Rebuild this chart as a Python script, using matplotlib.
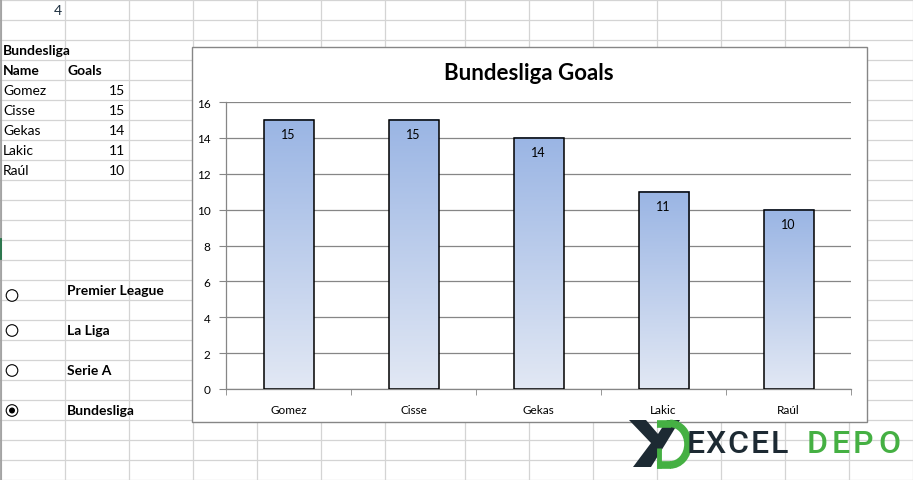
import numpy as np
import matplotlib
matplotlib.use("Agg")
import matplotlib.pyplot as plt
from matplotlib.patches import Rectangle, Circle, Polygon, Arc
from matplotlib.colors import LinearSegmentedColormap

# data
names = ["Gomez", "Cisse", "Gekas", "Lakic", "Raúl"]
goals = [15, 15, 14, 11, 10]
league = "Bundesliga"
options = ["Premier League", "La Liga", "Serie A", "Bundesliga"]
selected = 4
y_ticks = [0, 2, 4, 6, 8, 10, 12, 14, 16]

plt.rcParams['font.family'] = ['Lato', 'DejaVu Sans']

W, H = 913, 481
fig = plt.figure(figsize=(W / 100, H / 100), dpi=100)

# sheet background in pixel coordinates
bg = fig.add_axes([0, 0, 1, 1])
bg.set_xlim(0, W)
bg.set_ylim(H, 0)
bg.axis("off")

grid_c = "#d4d4d4"
cols = [0, 64, 128, 192, 256, 320, 384, 464, 528, 592, 656, 720, 784, 848, 912]
for x in cols:
    bg.plot([x + 0.5, x + 0.5], [0, H], color=grid_c, lw=0.9, zorder=1)
for r in range(0, 25):
    y = 0.7 + 20 * r
    bg.plot([0, W], [y, y], color=grid_c, lw=0.9, zorder=1)
bg.plot([0.6, 0.6], [0, H], color="#9a9a9a", lw=1.2, zorder=2)
bg.plot([0.5, 0.5], [240, 260], color="#217346", lw=1.3, zorder=3)

# table
fs = 10
bg.text(62, 11, "4", ha="right", va="center", fontsize=fs, color="#1f3040")
bg.text(3, 51, league, ha="left", va="center", fontsize=fs, fontweight="bold")
bg.text(3, 71, "Name", ha="left", va="center", fontsize=fs, fontweight="bold")
bg.text(67, 71, "Goals", ha="left", va="center", fontsize=fs, fontweight="bold")
for i, (n, g) in enumerate(zip(names, goals)):
    bg.text(3, 91 + 20 * i, n, ha="left", va="center", fontsize=fs)
    bg.text(125, 91 + 20 * i, str(g), ha="right", va="center", fontsize=fs)

# option buttons
circ_y = [296.5, 331.5, 371.5, 411.5]
for i, opt in enumerate(options):
    bg.text(67, 291.5 + 40 * i, opt, ha="left", va="center", fontsize=fs, fontweight="bold")
    bg.add_patch(Circle((12, circ_y[i]), 5.8, facecolor="white", edgecolor="black", lw=0.8, zorder=4))
    if i + 1 == selected:
        bg.add_patch(Circle((12, circ_y[i]), 3.0, facecolor="black", edgecolor="none", zorder=5))

# chart frame
bg.add_patch(Rectangle((191.5, 47.5), 675, 375.5, facecolor="white", edgecolor="#868686", lw=1, zorder=5))
bg.text(529, 73, league + " Goals", ha="center", va="center", fontsize=16, fontweight="bold", zorder=6)

# logo
dark = "#1d2a33"
green = "#45b043"
bg.add_patch(Polygon([(629, 421), (646, 421), (658, 435), (667, 421), (680, 421), (666, 444),
                      (651, 468), (633, 468), (651, 444)], closed=True, facecolor=dark, edgecolor="none", zorder=6))
bg.plot([657, 671], [424.5, 424.5], color=green, lw=5.5, solid_capstyle="butt", zorder=7)
bg.plot([657, 671], [466, 466], color=green, lw=5.5, solid_capstyle="butt", zorder=7)
bg.plot([659, 659], [449, 469], color=green, lw=3.5, solid_capstyle="butt", zorder=7)
bg.add_patch(Arc((670, 445.2), 36, 41.5, theta1=-90, theta2=90, color=green, lw=5.5, zorder=7))
logo_x = [695.5, 715, 737.5, 759.5, 779.5, 817.5, 840.5, 862.5, 889.5]
for ch, x, c in zip("EXCELDEPO", logo_x, [dark] * 5 + [green] * 4):
    bg.text(x, 445, ch, ha="center", va="center", fontsize=23, color=c,
            family="Roboto", fontweight="medium", zorder=7)

# chart plot area
L, R, T, B = 226, 851, 103, 390
ax = fig.add_axes([L / W, (H - B) / H, (R - L) / W, (B - T) / H], zorder=10)
ax.patch.set_alpha(0)

cmap = LinearSegmentedColormap.from_list("g", ["#e2e8f4", "#9ab5e4"])
grad = np.linspace(0, 1, 256).reshape(-1, 1)
bw = 0.4
for i, g in enumerate(goals):
    ax.imshow(grad, extent=[i - bw / 2, i + bw / 2, 0, g], origin="lower", cmap=cmap,
              aspect="auto", zorder=2, interpolation="bilinear")
    ax.add_patch(Rectangle((i - bw / 2, 0), bw, g, facecolor="none", edgecolor="black", lw=1.1, zorder=3))
    ax.text(i, g - 0.8, str(g), ha="center", va="center", fontsize=9, zorder=4)

ax.set_xlim(-0.5, len(names) - 0.5)
ax.set_ylim(0, 16)
ax.set_yticks(y_ticks)
ax.set_yticklabels([str(v) for v in y_ticks], fontsize=8.5)
ax.set_xticks(range(len(names)))
ax.set_xticklabels(names, fontsize=8.5)
ax.set_xticks(np.arange(-0.5, len(names), 1), minor=True)
ax.tick_params(axis="x", which="major", length=0, pad=11)
ax.tick_params(axis="x", which="minor", length=4, color="#868686", direction="out")
ax.tick_params(axis="y", length=5, color="#868686", pad=6)
ax.yaxis.grid(True, color="#868686", lw=0.9)
ax.set_axisbelow(True)
for s in ["top", "right"]:
    ax.spines[s].set_visible(False)
for s in ["left", "bottom"]:
    ax.spines[s].set_color("#868686")
    ax.spines[s].set_linewidth(0.9)

fig.savefig("out.png", dpi=100)
